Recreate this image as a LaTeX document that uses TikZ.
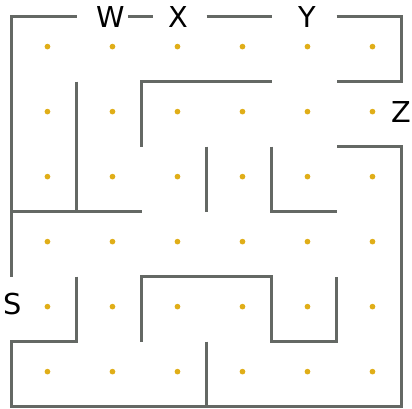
\documentclass[tikz,border=0pt]{standalone}
\usepackage{fontspec}
\setmainfont{DejaVu Sans}
\usetikzlibrary{positioning}
\definecolor{wallgray}{RGB}{100,104,100}
\definecolor{dotgold}{RGB}{224,174,24}

\begin{document}
\begin{tikzpicture}[x=1cm,y=-1cm,
  every node/.style={font=\fontsize{12.6}{15}\selectfont,inner sep=0pt},
  wall/.style={draw=wallgray,line width=1.25pt},
  spot/.style={fill=dotgold,draw=none}]
  \useasboundingbox (-0.18,-0.257) rectangle (6.158,6.02);
  % dots in the cells
  \foreach \i in {0,...,5}
    \foreach \j in {0,...,5}
      \fill[spot] (\i+0.55,\j+0.46) circle (0.044);
  % openings
  \node (W) at (1.52,0) {W};
  \node (X) at (2.57,0) {X};
  \node (Y) at (4.55,0) {Y};
  \node (Z) at (6.0,1.46) {Z};
  \node (S) at (0.02,4.42) {S};
  \draw[wall,shorten <=0.05cm,shorten >=0.23cm] (W) -- (X);
  % outer walls
  \draw[wall] (1,0) -- (0,0) -- (0,4);
  \draw[wall] (1,4) -- (1,5) -- (0,5) -- (0,6) -- (6,6) -- (6,2) -- (5,2);
  \draw[wall] (3,0) -- (4,0);
  \draw[wall] (5,0) -- (6,0) -- (6,1) -- (5,1);
  % inner walls
  \draw[wall] (1,1) -- (1,3);
  \draw[wall] (0,3) -- (2,3);
  \draw[wall] (2,2) -- (2,1) -- (4,1);
  \draw[wall] (3,2) -- (3,3);
  \draw[wall] (4,2) -- (4,3) -- (5,3);
  \draw[wall] (2,5) -- (2,4) -- (4,4) -- (4,5) -- (5,5) -- (5,4);
  \draw[wall] (3,5) -- (3,6);
\end{tikzpicture}
\end{document}
